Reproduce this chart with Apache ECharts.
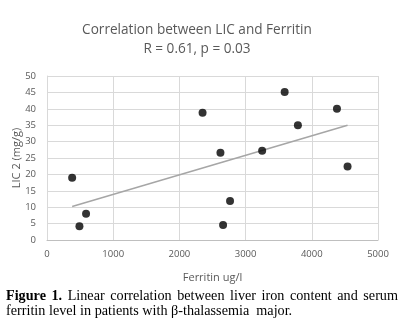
<!DOCTYPE html>
<html><head><meta charset="utf-8">
<script src="https://cdn.jsdelivr.net/npm/echarts@6/dist/echarts.min.js"></script>
<style>
html,body{margin:0;padding:0;background:#fff;}
#c{position:absolute;left:0;top:0;width:405px;height:322px;}
.cap{position:absolute;left:6px;width:392px;font-family:"Liberation Serif","Times New Roman",serif;font-size:14.2px;line-height:15px;color:#000;white-space:nowrap;}
#cap1{top:288px;text-align:justify;text-align-last:justify;white-space:normal;}
#cap2{top:303px;}
</style></head>
<body>
<div id="c"></div>
<div id="cap1" class="cap"><b>Figure 1.</b> Linear correlation between liver iron content and serum</div>
<div id="cap2" class="cap">ferritin level in patients with β-thalassemia&nbsp; major.</div>
<script>
var ferritin = [380, 490, 590, 2350, 2620, 2660, 2765, 3250, 3590, 3790, 4380, 4540];
var lic = [19, 4.2, 8, 38.8, 26.6, 4.6, 11.9, 27.2, 45.1, 35, 40, 22.4];
var trendX = [380, 4540];
var trendY = [10.2, 35.0];
var xTicks = [0, 1000, 2000, 3000, 4000, 5000];
var yTicks = [0, 5, 10, 15, 20, 25, 30, 35, 40, 45, 50];

var chart = echarts.init(document.getElementById('c'));
var font = '"Open Sans", "Noto Sans", sans-serif';
chart.setOption({
  animation: false,
  title: {
    text: 'Correlation between LIC and Ferritin\nR = 0.61, p = 0.03',
    left: 192, top: 16, textAlign: 'center',
    textStyle: {fontFamily: font, fontSize: 13.6, fontWeight: 'normal', color: '#595959', lineHeight: 18.5, align: 'center'}
  },
  grid: {left: 47, right: 27, top: 76, bottom: 82, outerBoundsMode: 'none', containLabel: false},
  xAxis: {
    type: 'value', min: 0, max: 5000, interval: 1000,
    name: 'Ferritin ug/l', nameLocation: 'middle', nameGap: 32, nameMoveOverlap: false,
    nameTextStyle: {fontFamily: font, fontSize: 11, color: '#595959'},
    axisLine: {show: true, lineStyle: {color: '#bfbfbf'}},
    axisTick: {show: false},
    axisLabel: {fontFamily: font, fontSize: 9.5, color: '#595959', margin: 9,
      formatter: function(v){ return xTicks.indexOf(v) >= 0 ? String(v) : ''; }},
    splitLine: {show: true, lineStyle: {color: '#d9d9d9'}}
  },
  yAxis: {
    type: 'value', min: 0, max: 50, interval: 5,
    name: 'LIC 2 (mg/g)', nameLocation: 'middle', nameGap: 25, nameRotate: 90, nameMoveOverlap: false,
    nameTextStyle: {fontFamily: font, fontSize: 11, color: '#595959'},
    axisLine: {show: true, lineStyle: {color: '#d9d9d9'}},
    axisTick: {show: false},
    axisLabel: {fontFamily: font, fontSize: 9.5, color: '#595959', margin: 11,
      formatter: function(v){ return yTicks.indexOf(v) >= 0 ? String(v) : ''; }},
    splitLine: {show: true, lineStyle: {color: '#d9d9d9'}}
  },
  series: [
    {
      type: 'line', data: trendX.map(function(x, i){return [x, trendY[i]];}),
      symbol: 'none', lineStyle: {color: '#a6a6a6', width: 1.5}, z: 2
    },
    {
      type: 'scatter', data: ferritin.map(function(x, i){return [x, lic[i]];}),
      symbolSize: 8, itemStyle: {color: '#000'}, z: 3
    }
  ]
});
</script>
</body></html>
